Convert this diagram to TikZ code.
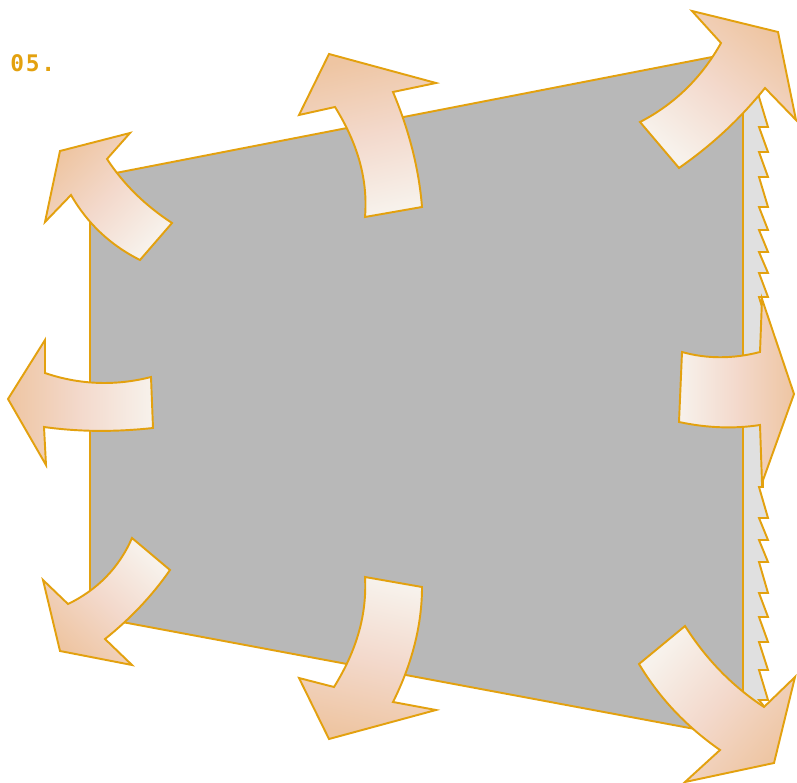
\documentclass[tikz,border=0pt]{standalone}
\usepackage{fontspec}
\newfontfamily\pixelfont[LetterSpace=8]{DejaVu Sans Mono}
\usetikzlibrary{positioning}
\definecolor{edgeorange}{HTML}{E3A10F}
\definecolor{panelgray}{HTML}{B8B8B8}
\definecolor{stripgray}{HTML}{E0E0E0}
\definecolor{headpeach}{HTML}{EEC5A2}
\definecolor{midpink}{HTML}{F3D9CC}
\definecolor{tailwhite}{HTML}{F7F2EC}
\tikzset{
  panel/.style={
    draw=edgeorange,
    fill=panelgray,
    line width=1.1pt
  },
  sidestrip/.style={
    draw=edgeorange,
    fill=stripgray,
    line width=1.1pt
  },
  bigarrow/.style={
    draw=edgeorange,
    line width=1.1pt,
    top color=headpeach,
    bottom color=tailwhite,
    middle color=midpink,
    shading angle=#1
  },
  numlabel/.style={
    text=edgeorange,
    font=\pixelfont\bfseries\fontsize{13}{13}\selectfont,
    inner sep=0pt
  }
}
\begin{document}
\begin{tikzpicture}[x=0.02cm, y=-0.02cm]
  \useasboundingbox (0,0) rectangle (797,783);

  \node[numlabel, anchor=west] (num) at (10,63) {05.};

  % panel and its side
  \draw[sidestrip] (743,51) -- (760,58) -- (759,97)
    \foreach \y in {127,152,177,207,230,252,273,297} { -- (768,\y) -- (759,\y) }
    -- (763,310) -- (763,487) -- (759,487)
    \foreach \y in {518,540,562,593,617,642,670,700} { -- (768,\y) -- (759,\y) }
    -- (763,705) -- (743,738) -- cycle;
  \draw[panel] (90,178) -- (743,51) -- (743,738) -- (90,616) -- cycle;

  % arrows
  \draw[bigarrow=47] (60,151) -- (130,133) -- (107,159) .. controls (124,185) and (146,206) .. (172,223)
    -- (140,260) .. controls (110,245) and (87,223) .. (71,195) -- (45,222) -- cycle;
  \draw[bigarrow=13] (329,54) -- (436,83) -- (393,92) .. controls (409,130) and (419,169) .. (422,207)
    -- (365,217) .. controls (368,180) and (358,144) .. (335,107) -- (299,115) -- cycle;
  \draw[bigarrow=-40] (778,32) -- (796,120) -- (765,88) .. controls (740,119) and (712,145) .. (679,168)
    -- (640,122) .. controls (675,104) and (702,77) .. (721,43) -- (692,11) -- cycle;
  \draw[bigarrow=90] (8,399) -- (45,340) -- (45,373) .. controls (80,385) and (116,386) .. (151,377)
    -- (153,428) .. controls (116,432) and (80,432) .. (44,427) -- (46,465) -- cycle;
  \draw[bigarrow=-90] (794,394) -- (762,483) -- (760,425) .. controls (734,429) and (707,428) .. (679,422)
    -- (682,352) .. controls (707,359) and (733,359) .. (760,352) -- (762,299) -- cycle;
  \draw[bigarrow=137] (60,651) -- (43,580) -- (68,604) .. controls (97,590) and (119,568) .. (132,538)
    -- (170,570) .. controls (152,596) and (130,619) .. (105,639) -- (132,665) -- cycle;
  \draw[bigarrow=167] (329,739) -- (299,678) -- (334,687) .. controls (357,650) and (367,614) .. (365,577)
    -- (422,587) .. controls (422,625) and (412,664) .. (393,702) -- (436,710) -- cycle;
  \draw[bigarrow=-131] (774,763) -- (685,782) -- (720,750) .. controls (687,727) and (660,699) .. (639,664)
    -- (685,626) .. controls (706,659) and (732,686) .. (764,707) -- (795,677) -- cycle;
\end{tikzpicture}
\end{document}
